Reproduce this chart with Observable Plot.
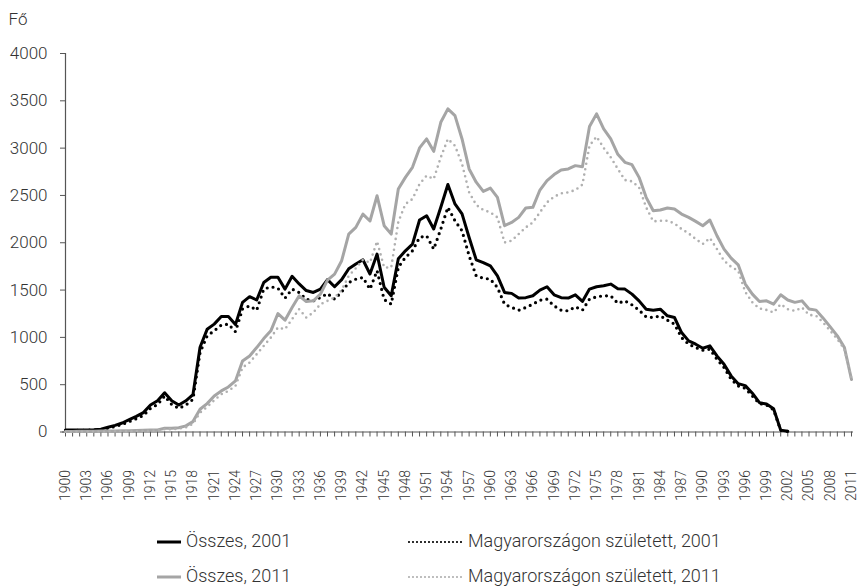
<!DOCTYPE html>
<html>
<head>
<meta charset="utf-8">
<script src="https://cdn.jsdelivr.net/npm/d3@7"></script>
<script src="https://cdn.jsdelivr.net/npm/@observablehq/plot@0.6"></script>
<style>
  html, body { margin: 0; padding: 0; background: #fff; }
  #wrap { width: 860px; }
  #legend { position: relative; width: 860px; height: 73px; font-family: Roboto, "Liberation Sans", sans-serif; font-weight: 300; font-size: 18px; color: #333; }
  .item { position: absolute; height: 22px; line-height: 22px; white-space: nowrap; }
  .item svg { position: absolute; top: 0; }
</style>
</head>
<body>
<div id="wrap"></div>
<script>
const years = d3.range(1900, 2012);
const yTicks = [0, 500, 1000, 1500, 2000, 2500, 3000, 3500, 4000];
const labelYears = years.filter(y => (y - 1900) % 3 === 0);

const total2001 = [
  20, 20, 22, 22, 25, 30, 50, 70, 95, 130,
  165, 205, 285, 330, 415, 330, 285, 330, 395, 895,
  1085, 1140, 1220, 1220, 1135, 1370, 1430, 1395, 1580, 1635,
  1635, 1510, 1645, 1565, 1495, 1475, 1510, 1610, 1535, 1610,
  1725, 1775, 1820, 1670, 1880, 1530, 1440, 1830, 1915, 1985,
  2240, 2285, 2145, 2375, 2615, 2410, 2305, 2055, 1820, 1790,
  1755, 1650, 1475, 1465, 1415, 1420, 1440, 1500, 1535, 1450,
  1420, 1415, 1450, 1380, 1510, 1535, 1545, 1563, 1515, 1510,
  1457, 1386, 1298, 1287, 1298, 1228, 1210, 1051, 963, 928,
  885, 910, 804, 716, 593, 511, 490, 410, 310, 295,
  245, 20, 8, null, null, null, null, null, null, null,
  null, null
];
const born2001 = [
  15, 15, 18, 18, 20, 25, 40, 58, 80, 110,
  140, 175, 250, 290, 380, 290, 250, 285, 345, 840,
  1015, 1070, 1130, 1140, 1060, 1300, 1333, 1287, 1510, 1534,
  1520, 1415, 1510, 1474, 1404, 1386, 1421, 1463, 1404, 1480,
  1580, 1615, 1633, 1510, 1704, 1400, 1351, 1739, 1845, 1915,
  2056, 2074, 1933, 2145, 2374, 2233, 2127, 1862, 1650, 1626,
  1615, 1527, 1351, 1316, 1287, 1316, 1351, 1393, 1404, 1333,
  1287, 1280, 1323, 1287, 1404, 1429, 1439, 1439, 1360, 1386,
  1344, 1287, 1217, 1210, 1228, 1182, 1140, 998, 928, 892,
  864, 875, 769, 681, 558, 487, 462, 381, 300, 286,
  235, 18, 6, null, null, null, null, null, null, null,
  null, null
];
const total2011 = [
  5, 5, 8, 8, 8, 10, 10, 10, 12, 12,
  15, 18, 20, 22, 40, 40, 45, 65, 110, 240,
  300, 381, 434, 476, 540, 751, 804, 892, 987, 1069,
  1252, 1182, 1316, 1439, 1379, 1386, 1457, 1605, 1668, 1810,
  2092, 2162, 2303, 2230, 2497, 2180, 2092, 2568, 2691, 2797,
  3002, 3097, 2966, 3273, 3415, 3344, 3097, 2780, 2640, 2543,
  2578, 2480, 2180, 2215, 2268, 2367, 2374, 2557, 2656, 2720,
  2769, 2780, 2815, 2804, 3228, 3362, 3203, 3097, 2935, 2850,
  2825, 2691, 2480, 2339, 2346, 2367, 2356, 2303, 2268, 2226,
  2180, 2240, 2074, 1933, 1838, 1767, 1563, 1457, 1379, 1386,
  1351, 1450, 1395, 1370, 1386, 1300, 1288, 1203, 1111, 1016,
  892, 555
];
const born2011 = [
  3, 3, 5, 5, 5, 6, 6, 7, 8, 8,
  10, 12, 14, 15, 30, 30, 35, 50, 85, 205,
  265, 335, 399, 434, 487, 681, 734, 822, 910, 998,
  1104, 1087, 1193, 1298, 1210, 1263, 1351, 1386, 1421, 1500,
  1650, 1730, 1820, 1790, 2015, 1739, 1739, 2220, 2409, 2462,
  2621, 2709, 2674, 2903, 3097, 3026, 2833, 2533, 2400, 2346,
  2321, 2268, 2003, 2021, 2092, 2162, 2215, 2321, 2427, 2487,
  2522, 2533, 2557, 2614, 3026, 3122, 3002, 2903, 2780, 2663,
  2649, 2586, 2374, 2226, 2233, 2233, 2204, 2145, 2099, 2039,
  1986, 2050, 1933, 1810, 1746, 1704, 1480, 1370, 1305, 1290,
  1263, 1351, 1298, 1280, 1316, 1238, 1228, 1157, 1069, 981,
  875, 560
];

const seriesNames = ["Összes, 2001", "Magyarországon született, 2001", "Összes, 2011", "Magyarországon született, 2011"];
const rows = (arr) => years.map((year, i) => ({year, value: arr[i]}));

const font = "Roboto, 'Liberation Sans', sans-serif";

const chart = Plot.plot({
  width: 860,
  height: 515,
  marginTop: 53,
  marginLeft: 65,
  marginRight: 9,
  marginBottom: 83.5,
  x: {domain: [1900, 2011], axis: null, label: null},
  y: {domain: [0, 4000], axis: null, label: null},
  style: {fontFamily: font, fontWeight: 300, color: "#333", background: "#fff"},
  marks: [
    Plot.ruleY([0], {stroke: "#555", strokeWidth: 1.2, insetLeft: -3, insetRight: -2}),
    Plot.ruleX([1900], {y1: 0, y2: 4000, stroke: "#555", strokeWidth: 1.2}),
    Plot.axisY({ticks: yTicks, tickSize: 5, tickPadding: 13, fontSize: 17, tickFormat: d => String(d), stroke: "#555", label: null}),
    Plot.axisX({ticks: years, tickSize: 5, tickFormat: () => "", stroke: "#555", label: null}),
    Plot.axisX({ticks: labelYears, tickSize: 0, tickPadding: 38, tickRotate: -90, fontSize: 14, tickFormat: d => String(d), label: null}),
    Plot.line(rows(total2001), {x: "year", y: "value", stroke: "#000", strokeWidth: 3, strokeLinejoin: "round"}),
    Plot.line(rows(born2001), {x: "year", y: "value", stroke: "#000", strokeWidth: 3.2, strokeDasharray: "0,6", strokeLinecap: "round"}),
    Plot.line(rows(total2011), {x: "year", y: "value", stroke: "#a5a5a5", strokeWidth: 3, strokeLinejoin: "round"}),
    Plot.line(rows(born2011), {x: "year", y: "value", stroke: "#b0b0b0", strokeWidth: 2.6, strokeDasharray: "0,5.5", strokeLinecap: "round"}),
    Plot.text(["Fő"], {frameAnchor: "top-left", dx: -57, dy: -41, textAnchor: "start", fontSize: 17, fill: "#333"})
  ]
});
document.getElementById("wrap").appendChild(chart);

// Legend
const legend = document.createElement("div");
legend.id = "legend";
const items = [
  {name: seriesNames[0], left: 157, center: 26, stroke: "#000", width: 3, dash: null, sw: 24},
  {name: seriesNames[1], left: 407, center: 26, stroke: "#000", width: 2.2, dash: "0,4", sw: 56},
  {name: seriesNames[2], left: 157, center: 61, stroke: "#a5a5a5", width: 3, dash: null, sw: 24},
  {name: seriesNames[3], left: 407, center: 61, stroke: "#b0b0b0", width: 2.2, dash: "0,4", sw: 56}
];
for (const it of items) {
  const d = document.createElement("div");
  d.className = "item";
  d.style.left = it.left + "px";
  d.style.top = (it.center - 11) + "px";
  d.style.paddingLeft = (it.sw + 5) + "px";
  const ns = "http://www.w3.org/2000/svg";
  const s = document.createElementNS(ns, "svg");
  s.setAttribute("width", it.sw);
  s.setAttribute("height", 22);
  s.style.left = "0px";
  const l = document.createElementNS(ns, "line");
  l.setAttribute("x1", it.dash ? 2 : 0);
  l.setAttribute("x2", it.sw);
  l.setAttribute("y1", 12);
  l.setAttribute("y2", 12);
  l.setAttribute("stroke", it.stroke);
  l.setAttribute("stroke-width", it.width);
  if (it.dash) { l.setAttribute("stroke-dasharray", it.dash); l.setAttribute("stroke-linecap", "round"); }
  s.appendChild(l);
  d.appendChild(s);
  d.appendChild(document.createTextNode(it.name));
  legend.appendChild(d);
}
document.getElementById("wrap").appendChild(legend);
</script>
</body>
</html>
